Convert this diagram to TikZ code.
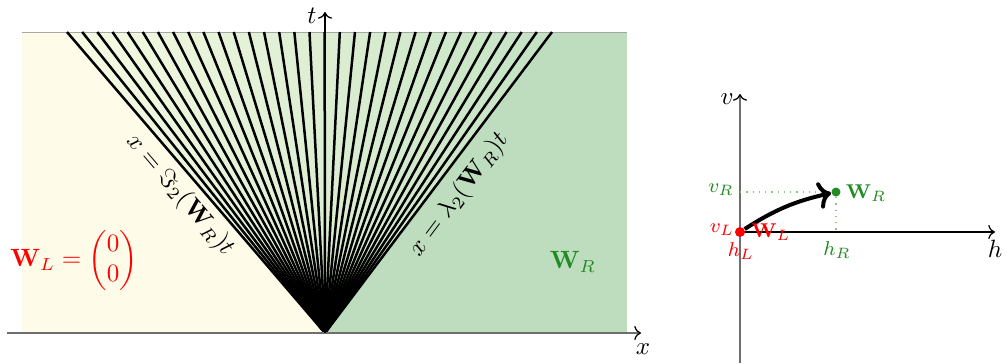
\documentclass[tikz,border=0pt]{standalone}
\usepackage{amsmath,amssymb}
\usetikzlibrary{arrows.meta}
\definecolor{cream}{RGB}{254,251,233}
\definecolor{rgreen}{RGB}{190,221,191}
\definecolor{fanL}{RGB}{247,251,228}
\definecolor{fanR}{RGB}{196,226,195}
\definecolor{wgreen}{RGB}{34,139,34}
\definecolor{dotgreen}{RGB}{140,195,140}
\definecolor{axgray}{RGB}{110,110,110}
\begin{document}
\begin{tikzpicture}[x=0.4pt,y=-0.4pt,
  fanline/.style={line width=1pt,black},
  axisline/.style={axgray,line width=0.5pt,-{To[black]}},
  blackaxis/.style={black,line width=0.5pt,-{To}},
  small/.style={font=\footnotesize,inner sep=1pt},
  dotnode/.style={circle,inner sep=0pt}]
\useasboundingbox (0,0) rectangle (1007,363);
% ---------- left panel ----------
\fill[cream] (22,32) rectangle (325,333);
\fill[rgreen] (325,32) rectangle (627,333);
\coordinate (O) at (325,333);
\shade[left color=fanL,right color=fanR] (O) -- (67,32) -- (552,32) -- cycle;
\draw[black!35,line width=0.3pt] (22,32) -- (627,32);
\foreach \k in {0,...,32}{
  \coordinate (T\k) at ({67+485*\k/32},32);
  \draw[fanline] (O) -- (T\k);
}
\coordinate (xs) at (7,333);
\coordinate (xe) at (641,333);
\draw[axisline] (xs) -- (xe);
\coordinate (tt) at (325,12);
\draw[blackaxis] (O) -- (tt);
\node (tlab) at (312,16) {$t$};
\node (xlab) at (643,349) {$x$};
\node[rotate=-49.4] (lblL) at (180,195) {$x=\Im_2(\mathbf{W}_R)t$};
\node[rotate=53] (lblR) at (459,195) {$x=\lambda_2(\mathbf{W}_R)t$};
\node[red] (WLeq) at (74,260) {$\mathbf{W}_L=\begin{pmatrix}0\\0\end{pmatrix}$};
\node[wgreen] (WRlab) at (573,262) {$\mathbf{W}_R$};
% ---------- right panel ----------
\coordinate (vb) at (740,363);
\coordinate (vt) at (740,94);
\draw[axisline] (vb) -- (vt);
\coordinate (hs) at (740,232);
\coordinate (he) at (995,232);
\draw[blackaxis] (hs) -- (he);
\node (vlab) at (727,99) {$v$};
\node (hlab) at (995,249) {$h$};
\coordinate (vRa) at (740,192);
\coordinate (hRa) at (836,232);
\node[dotnode,fill=red,minimum size=4pt] (pL) at (740,232) {};
\node[dotnode,fill=wgreen,minimum size=3.6pt] (pR) at (836,192) {};
\draw[dotgreen,dotted,line width=0.5pt] (vRa) -- (pR) -- (hRa);
\draw[line width=1.6pt,-{To}] (pL) to[bend left=10] (pR);
\node[small,wgreen] (vR) at (721,190) {$v_R$};
\node[small,red] (vL) at (722,230) {$v_L$};
\node[small,red] (hL) at (741,251) {$h_L$};
\node[small,wgreen] (hR) at (837,250) {$h_R$};
\node[small,red] (WLp) at (771,232) {$\mathbf{W}_L$};
\node[small,wgreen] (WRp) at (866,193) {$\mathbf{W}_R$};
\end{tikzpicture}
\end{document}
